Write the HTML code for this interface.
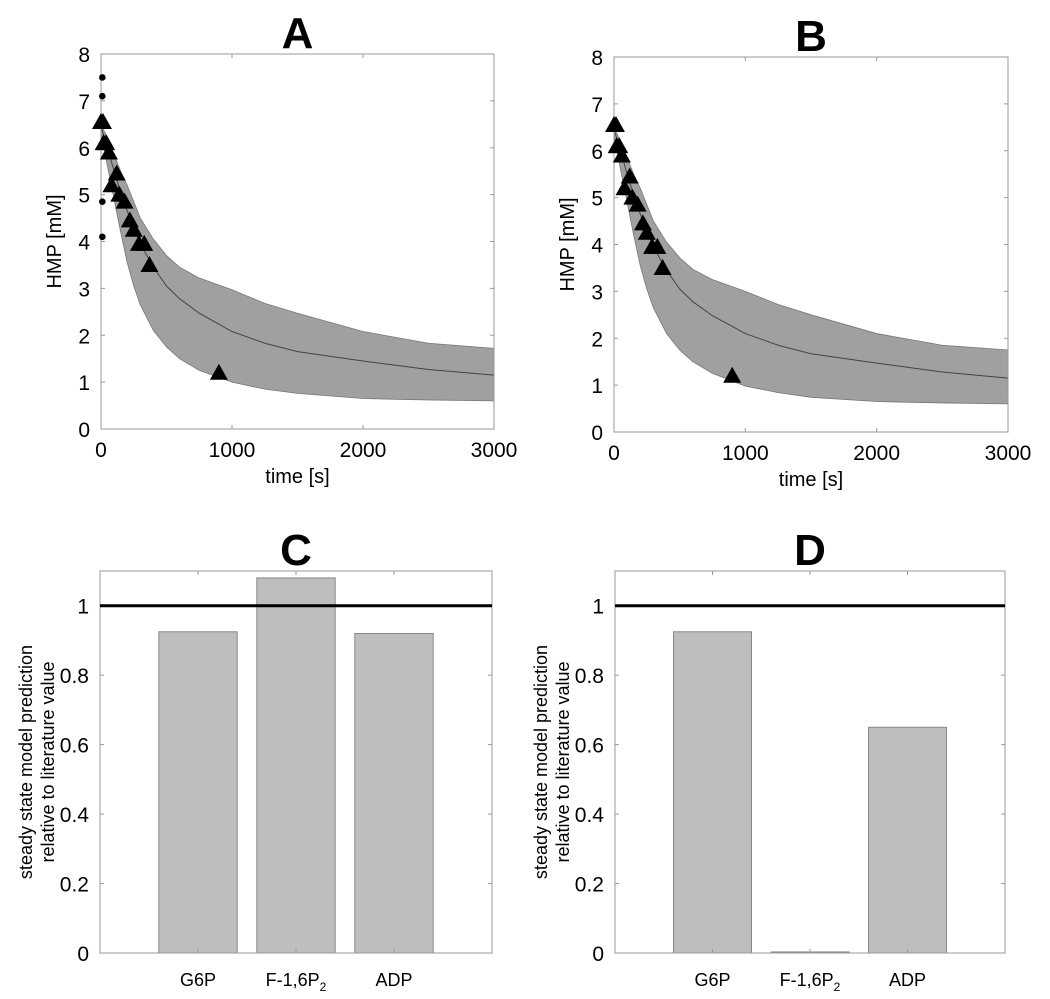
<!DOCTYPE html>
<html><head><meta charset="utf-8"><style>
body{margin:0;background:#fff;}
svg{display:block;font-family:"Liberation Sans",Arial,sans-serif;}
</style></head><body>
<svg id="fig" width="1050" height="999" viewBox="0 0 1050 999"></svg>
<script>
// ---- data: time-course panels A & B ----
const bandTimes = [0, 50, 100, 150, 200, 250, 300, 400, 500, 600, 750, 1000, 1250, 1500, 2000, 2500, 3000];
const bandUpperA = [6.5, 6.2, 5.85, 5.5, 5.2, 4.85, 4.5, 4.05, 3.7, 3.45, 3.22, 2.97, 2.68, 2.47, 2.08, 1.83, 1.72];
const bandMeanA  = [6.45, 6.0, 5.5, 5.05, 4.65, 4.3, 3.95, 3.45, 3.05, 2.78, 2.47, 2.08, 1.83, 1.65, 1.45, 1.27, 1.15];
const bandLowerA = [6.3, 5.6, 4.9, 4.2, 3.55, 3.05, 2.65, 2.1, 1.75, 1.5, 1.25, 1.0, 0.85, 0.76, 0.65, 0.62, 0.6];
const bandUpperB = [6.5, 6.2, 5.85, 5.5, 5.2, 4.85, 4.5, 4.05, 3.72, 3.47, 3.25, 3.0, 2.72, 2.5, 2.1, 1.85, 1.75];
const bandMeanB  = [6.45, 6.0, 5.5, 5.05, 4.65, 4.3, 3.95, 3.45, 3.05, 2.78, 2.48, 2.1, 1.85, 1.67, 1.47, 1.28, 1.15];
const bandLowerB = [6.3, 5.6, 4.9, 4.2, 3.55, 3.05, 2.65, 2.1, 1.75, 1.5, 1.25, 0.98, 0.84, 0.74, 0.65, 0.62, 0.6];
const triTimes = [0, 15, 20, 40, 60, 80, 120, 140, 180, 220, 250, 290, 330, 370, 900];
const triValues = [6.55, 6.55, 6.1, 6.1, 5.9, 5.2, 5.45, 5.0, 4.85, 4.45, 4.25, 3.95, 3.95, 3.5, 1.2];
const dotTimes = [10, 10, 10, 10];
const dotValues = [7.5, 7.1, 4.85, 4.1];
const xTicksTime = [0, 1000, 2000, 3000];
const yTicksHMP = [0, 1, 2, 3, 4, 5, 6, 7, 8];
// ---- data: bar panels C & D ----
const categories = ["G6P", "F-1,6P2", "ADP"];
const barValuesC = [0.925, 1.08, 0.92];
const barValuesD = [0.925, 0.003, 0.65];
const yTicksBar = [0, 0.2, 0.4, 0.6, 0.8, 1];
const refLineValue = 1;

const NS = "http://www.w3.org/2000/svg";
const svg = document.getElementById("fig");
function mk(tag, attrs, parent) {
  const e = document.createElementNS(NS, tag);
  for (const k in attrs) e.setAttribute(k, attrs[k]);
  (parent || svg).appendChild(e);
  return e;
}
function boxTicks(g, L, R, T, B, xs, ys, sx, sy) {
  xs.forEach(v => {
    const x = sx(v);
    const t1 = mk("line", {x1:x, x2:x, y1:B, y2:B-4, stroke:"#999"}, g);
    
    
    mk("line", {x1:x, x2:x, y1:T, y2:T+4, stroke:"#999"}, g);
  });
  ys.forEach(v => {
    const y = sy(v);
    const t2 = mk("line", {x1:L, x2:L+4, y1:y, y2:y, stroke:"#999"}, g);
    
    
    mk("line", {x1:R, x2:R-4, y1:y, y2:y, stroke:"#999"}, g);
  });
}
function linePanel(name, title, L, R, T, B, up, mean, low) {
  const g = mk("g", {});
  
  
  const sx = v => L + (v / 3000) * (R - L);
  const sy = v => B - (v / 8) * (B - T);
  const tt = mk("text", {x:(L+R)/2, y:T-6, "text-anchor":"middle", "font-size":44, "font-weight":"bold"}, g);
  tt.textContent = title;
  
  
  let d = "M" + bandTimes.map((t,i)=>sx(t)+","+sy(up[i])).join(" L");
  for (let i = bandTimes.length-1; i >= 0; i--) d += " L" + sx(bandTimes[i]) + "," + sy(low[i]);
  const band = mk("path", {d: d + "Z", fill:"#a0a0a0", stroke:"#777", "stroke-width":0.8}, g);
  
  
  const ml = mk("polyline", {points: bandTimes.map((t,i)=>sx(t)+","+sy(mean[i])).join(" "), fill:"none", stroke:"#444", "stroke-width":1}, g);
  
  
  mk("rect", {x:L, y:T, width:R-L, height:B-T, fill:"none", stroke:"#999", "stroke-width":1}, g);
  boxTicks(g, L, R, T, B, xTicksTime, yTicksHMP, sx, sy);
  if (name === "panel-a") {
    dotTimes.forEach((t,i) => {
      const c = mk("circle", {cx:sx(t), cy:sy(dotValues[i]), r:3.3, fill:"#000"}, g);
      
      
    });
  }
  triTimes.forEach((t,i) => {
    const x = sx(t), y = sy(triValues[i]);
    const p = mk("polygon", {points:`${x},${y-9} ${x-9},${y+7} ${x+9},${y+7}`, fill:"#000"}, g);
    
    
  });
  xTicksTime.forEach(v => {
    const t = mk("text", {x:sx(v), y:B+28, "text-anchor":"middle", "font-size":21}, g);
    t.textContent = v;
    
    
  });
  yTicksHMP.forEach(v => {
    const t = mk("text", {x:L-11, y:sy(v)+8, "text-anchor":"end", "font-size":21}, g);
    t.textContent = v;
    
    
  });
  const xl = mk("text", {x:(L+R)/2, y:B+54, "text-anchor":"middle", "font-size":20}, g);
  xl.textContent = "time [s]";
  
  
  const yl = mk("text", {x:0, y:0, "text-anchor":"middle", "font-size":20, transform:`translate(${L-40},${(T+B)/2}) rotate(-90)`}, g);
  yl.textContent = "HMP [mM]";
  
  
}
function barPanel(name, title, L, R, T, B, vals) {
  const g = mk("g", {});
  
  
  const sx = v => L + (v / 4) * (R - L);
  const sy = v => B - (v / 1.1) * (B - T);
  const tt = mk("text", {x:(L+R)/2, y:T-6, "text-anchor":"middle", "font-size":44, "font-weight":"bold"}, g);
  tt.textContent = title;
  
  
  vals.forEach((v,i) => {
    const x0 = sx(i+1-0.4), x1 = sx(i+1+0.4);
    const r = mk("rect", {x:x0, y:sy(v), width:x1-x0, height:B-sy(v), fill:"#bebebe", stroke:"#888", "stroke-width":1}, g);
    
    
  });
  mk("rect", {x:L, y:T, width:R-L, height:B-T, fill:"none", stroke:"#999", "stroke-width":1}, g);
  boxTicks(g, L, R, T, B, [0,1,2,3,4], yTicksBar, sx, sy);
  const rl = mk("line", {x1:L, x2:R, y1:sy(refLineValue), y2:sy(refLineValue), stroke:"#000", "stroke-width":3}, g);
  
  
  yTicksBar.forEach(v => {
    const t = mk("text", {x:L-11, y:sy(v)+8, "text-anchor":"end", "font-size":21}, g);
    t.textContent = v;
    
    
  });
  categories.forEach((c,i) => {
    const t = mk("text", {x:sx(i+1), y:B+33, "text-anchor":"middle", "font-size":18}, g);
    
    
    if (c.endsWith("P2")) {
      t.textContent = c.slice(0, -1);
      const s = mk("tspan", {"font-size":12, dy:5}, t);
      s.textContent = "2";
    } else t.textContent = c;
  });
  const yl = mk("text", {x:0, y:0, "text-anchor":"middle", "font-size":18, transform:`translate(${L-68},${(T+B)/2}) rotate(-90)`}, g);
  
  
  const s1 = mk("tspan", {x:0, dy:0}, yl); s1.textContent = "steady state model prediction";
  const s2 = mk("tspan", {x:0, dy:22}, yl); s2.textContent = "relative to literature value";
}
linePanel("panel-a", "A", 101, 494, 54, 429, bandUpperA, bandMeanA, bandLowerA);
linePanel("panel-b", "B", 614, 1008, 57, 432, bandUpperB, bandMeanB, bandLowerB);
barPanel("panel-c", "C", 100, 492, 571, 953, barValuesC);
barPanel("panel-d", "D", 615, 1005, 571, 953, barValuesD);
</script>
</body></html>
